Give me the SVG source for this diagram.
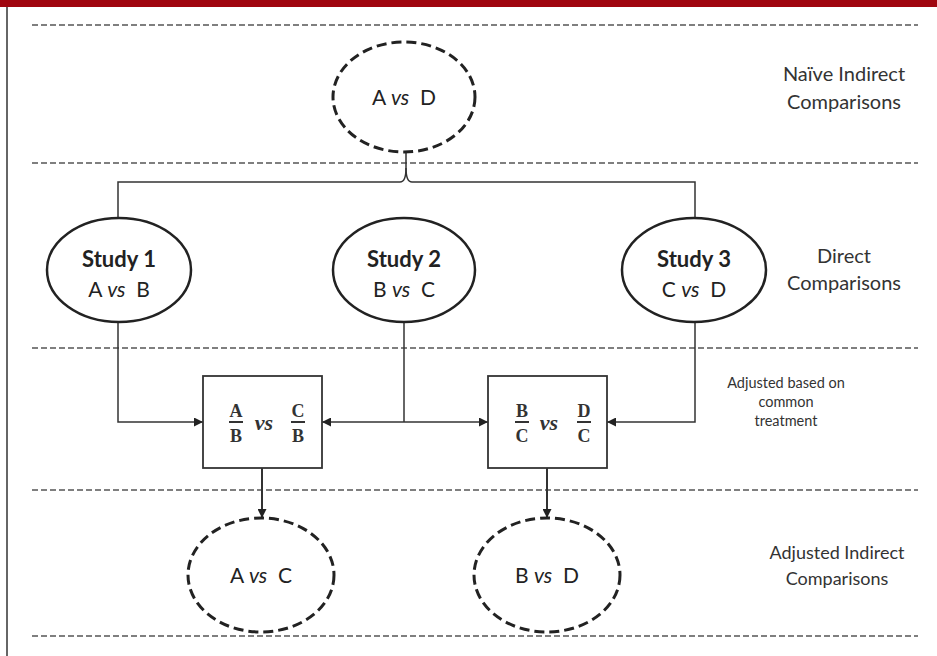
<svg xmlns="http://www.w3.org/2000/svg" width="937" height="656" viewBox="0 0 937 656">
<defs>
<marker id="arr" viewBox="0 0 10 10" refX="10" refY="5" markerWidth="9" markerHeight="9" markerUnits="userSpaceOnUse" orient="auto-start-reverse">
<path d="M0,0 L10,5 L0,10 z" fill="#222"/>
</marker>
<style>
text{white-space:pre}
.sep{stroke:#555;stroke-width:1.5;stroke-dasharray:6 3;fill:none}
.dash{fill:#fff;stroke:#222;stroke-width:3;stroke-dasharray:10 5}
.solid{fill:#fff;stroke:#222;stroke-width:2.5}
.box{fill:#fff;stroke:#333;stroke-width:1.8}
.ln{fill:none;stroke:#333;stroke-width:1.5}
.lab{font-family:Lato,"Open Sans","Liberation Sans",sans-serif;font-size:20px;fill:#333;text-anchor:middle}
.nt{font-family:Lato,"Open Sans","Liberation Sans",sans-serif;font-size:21px;fill:#222;text-anchor:middle}
.bt{font-weight:bold;font-size:22px}
.it{font-style:italic}
.fr{font-family:"Liberation Serif",serif;font-weight:bold;font-size:18px;fill:#333;text-anchor:middle}
.vs{font-family:"Liberation Serif",serif;font-weight:bold;font-style:italic;font-size:22px;fill:#333;text-anchor:middle}
</style>
</defs>
<rect x="0" y="0" width="937" height="7" fill="#a0060f"/>
<rect x="6" y="7" width="2" height="649" fill="#666"/>
<g id="separators">
<line class="sep" x1="32" y1="25" x2="918" y2="25"/>
<line class="sep" x1="32" y1="163" x2="918" y2="163"/>
<line class="sep" x1="32" y1="348" x2="918" y2="348"/>
<line class="sep" x1="32" y1="490" x2="918" y2="490"/>
<line class="sep" x1="32" y1="636" x2="918" y2="636"/>
</g>
<g id="connectors">
<path class="ln" d="M406,152 V168 Q406,182 400,182 H118 V218"/>
<path class="ln" d="M406,168 Q406,182 412,182 H695 V218"/>
<path class="ln" d="M118,322 V422 H203" marker-end="url(#arr)"/>
<path class="ln" d="M404,322 V422"/>
<path class="ln" d="M322,422 H488" marker-start="url(#arr)" marker-end="url(#arr)"/>
<path class="ln" d="M695,322 V422 H607" marker-end="url(#arr)"/>
<path class="ln" style="stroke-width:2" d="M262,468 V518" marker-end="url(#arr)"/>
<path class="ln" style="stroke-width:2" d="M547,468 V518" marker-end="url(#arr)"/>
</g>
<g id="naive">
<ellipse class="dash" cx="404" cy="97" rx="71" ry="55"/>
<text class="nt" x="404" y="105">A <tspan class="it">vs</tspan>  D</text>
</g>
<g id="study1">
<ellipse class="solid" cx="119" cy="270" rx="72" ry="52"/>
<text class="nt bt" x="119" y="267">Study 1</text>
<text class="nt" x="119" y="297">A <tspan class="it">vs</tspan>  B</text>
</g>
<g id="study2">
<ellipse class="solid" cx="404" cy="270" rx="71" ry="52"/>
<text class="nt bt" x="404" y="267">Study 2</text>
<text class="nt" x="404" y="297">B <tspan class="it">vs</tspan>  C</text>
</g>
<g id="study3">
<ellipse class="solid" cx="694" cy="270" rx="72" ry="52"/>
<text class="nt bt" x="694" y="267">Study 3</text>
<text class="nt" x="694" y="297">C <tspan class="it">vs</tspan>  D</text>
</g>
<g id="box1">
<rect class="box" x="203" y="376" width="119" height="92"/>
<text class="fr" x="236" y="417">A</text>
<line x1="229" y1="422" x2="243" y2="422" stroke="#333" stroke-width="2"/>
<text class="fr" x="236" y="442">B</text>
<text class="vs" x="264" y="430">vs</text>
<text class="fr" x="298" y="417">C</text>
<line x1="291" y1="422" x2="305" y2="422" stroke="#333" stroke-width="2"/>
<text class="fr" x="298" y="442">B</text>
</g>
<g id="box2">
<rect class="box" x="488" y="376" width="119" height="92"/>
<text class="fr" x="522" y="417">B</text>
<line x1="515" y1="422" x2="529" y2="422" stroke="#333" stroke-width="2"/>
<text class="fr" x="522" y="442">C</text>
<text class="vs" x="549" y="430">vs</text>
<text class="fr" x="584" y="417">D</text>
<line x1="577" y1="422" x2="591" y2="422" stroke="#333" stroke-width="2"/>
<text class="fr" x="584" y="442">C</text>
</g>
<g id="avc">
<ellipse class="dash" cx="261" cy="575" rx="73" ry="57"/>
<text class="nt" x="261" y="583">A <tspan class="it">vs</tspan>  C</text>
</g>
<g id="bvd">
<ellipse class="dash" cx="547" cy="575" rx="73" ry="57"/>
<text class="nt" x="547" y="583">B <tspan class="it">vs</tspan>  D</text>
</g>
<g id="labels">
<text class="lab" x="844" y="81">Naïve Indirect</text>
<text class="lab" x="844" y="109">Comparisons</text>
<text class="lab" x="844" y="263">Direct</text>
<text class="lab" x="844" y="290">Comparisons</text>
<text class="lab" style="font-size:14.5px" x="786" y="388">Adjusted based on</text>
<text class="lab" style="font-size:14.5px" x="786" y="407">common</text>
<text class="lab" style="font-size:14.5px" x="786" y="426">treatment</text>
<text class="lab" style="font-size:18px" x="837" y="559">Adjusted Indirect</text>
<text class="lab" style="font-size:18px" x="837" y="585">Comparisons</text>
</g>
</svg>
